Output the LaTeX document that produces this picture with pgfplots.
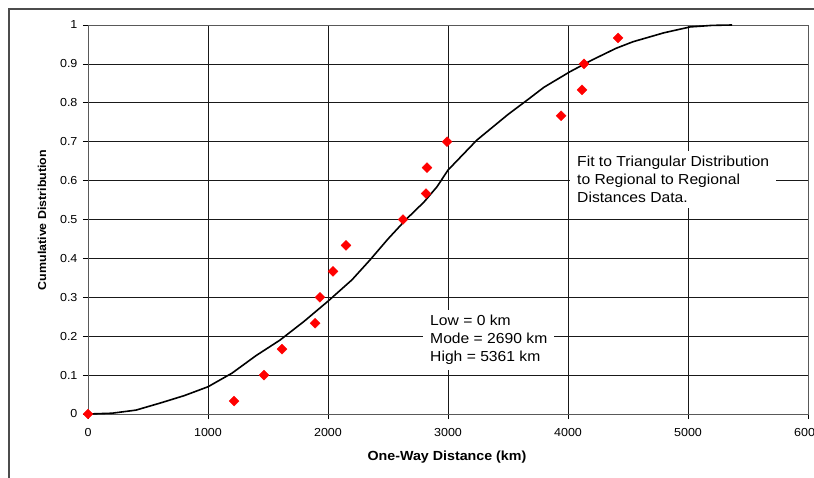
\documentclass[border=0pt]{standalone}
\usepackage{fontspec}
\setmainfont{Liberation Sans}[FakeStretch=1.08]
\usepackage{pgfplots}
\pgfplotsset{compat=1.18}
\begin{document}
\begin{tikzpicture}[x=1pt,y=1pt]
\useasboundingbox (0,0) rectangle (814,477);
\draw[black!70, line width=1.5pt] (9,-5) -- (9,468) -- (820,468);
\begin{axis}[at={(88pt,63pt)}, anchor=south west, scale only axis,
  width=720pt, height=389pt,
  xmin=0, xmax=6000, ymin=0, ymax=1,
  xtick={0,1000,2000,3000,4000,5000,6000},
  xticklabels={0,1000,2000,3000,4000,5000,6000},
  ytick={0,0.1,0.2,0.3,0.4,0.5,0.6,0.7,0.8,0.9,1},
  yticklabels={0,0.1,0.2,0.3,0.4,0.5,0.6,0.7,0.8,0.9,1},
  ticklabel style={font=\fontsize{11.6}{13}\selectfont},
  xticklabel style={yshift=-6pt},
  yticklabel style={xshift=-2pt},
  grid=major,
  major grid style={black!90, line width=0.7pt},
  axis line style={black!65, line width=0.9pt},
  tick align=outside, tick pos=left,
  major tick length=5pt,
  tick style={black, line width=0.7pt},
  xlabel={One-Way Distance (km)},
  ylabel={Cumulative Distribution},
  xlabel style={font=\fontsize{13.2}{15}\selectfont\bfseries, at={(axis description cs:0.4986,-0.1105)}, anchor=center},
  ylabel style={font=\fontsize{11.5}{14}\selectfont\bfseries, at={(axis description cs:-0.0639,0.4987)}, anchor=center},
  clip=false,
]
\addplot[black, line width=1.6pt] coordinates {
(0,0) (200,0.002) (400,0.010) (600,0.028) (800,0.047) (1000,0.070)
(1200,0.105) (1400,0.150) (1600,0.190) (1800,0.238) (2000,0.290)
(2200,0.345) (2350,0.396) (2500,0.450) (2650,0.500) (2800,0.545)
(2908,0.584) (3000,0.627) (3240,0.704) (3500,0.770) (3660,0.807)
(3800,0.840) (4017,0.880) (4200,0.910) (4400,0.940) (4542,0.957)
(4800,0.980) (5017,0.995) (5200,0.999) (5367,1.0)
};
\addplot[only marks, mark=square*, mark size=3.5pt, mark options={rotate=45, fill=red, draw=red}] coordinates {
(0,0) (1217,0.0333) (1467,0.1) (1617,0.1667) (1892,0.2333) (1933,0.3)
(2042,0.3667) (2150,0.4333) (2625,0.5) (2817,0.5667) (2825,0.6333)
(2992,0.7) (3942,0.7667) (4117,0.8333) (4133,0.9) (4417,0.9667)
};
\node[fill=white, anchor=north west, align=left, inner xsep=7pt, inner ysep=5pt,
  font=\fontsize{14.5}{18}\selectfont] at (axis cs:4017,0.676)
  {Fit to Triangular Distribution\\to Regional to Regional\\Distances Data.};
\node[fill=white, anchor=north west, align=left, inner xsep=7pt, inner ysep=5pt,
  font=\fontsize{14.5}{18}\selectfont] at (axis cs:2792,0.267)
  {Low = 0 km\\Mode = 2690 km\\High = 5361 km};
\end{axis}
\end{tikzpicture}
\end{document}
